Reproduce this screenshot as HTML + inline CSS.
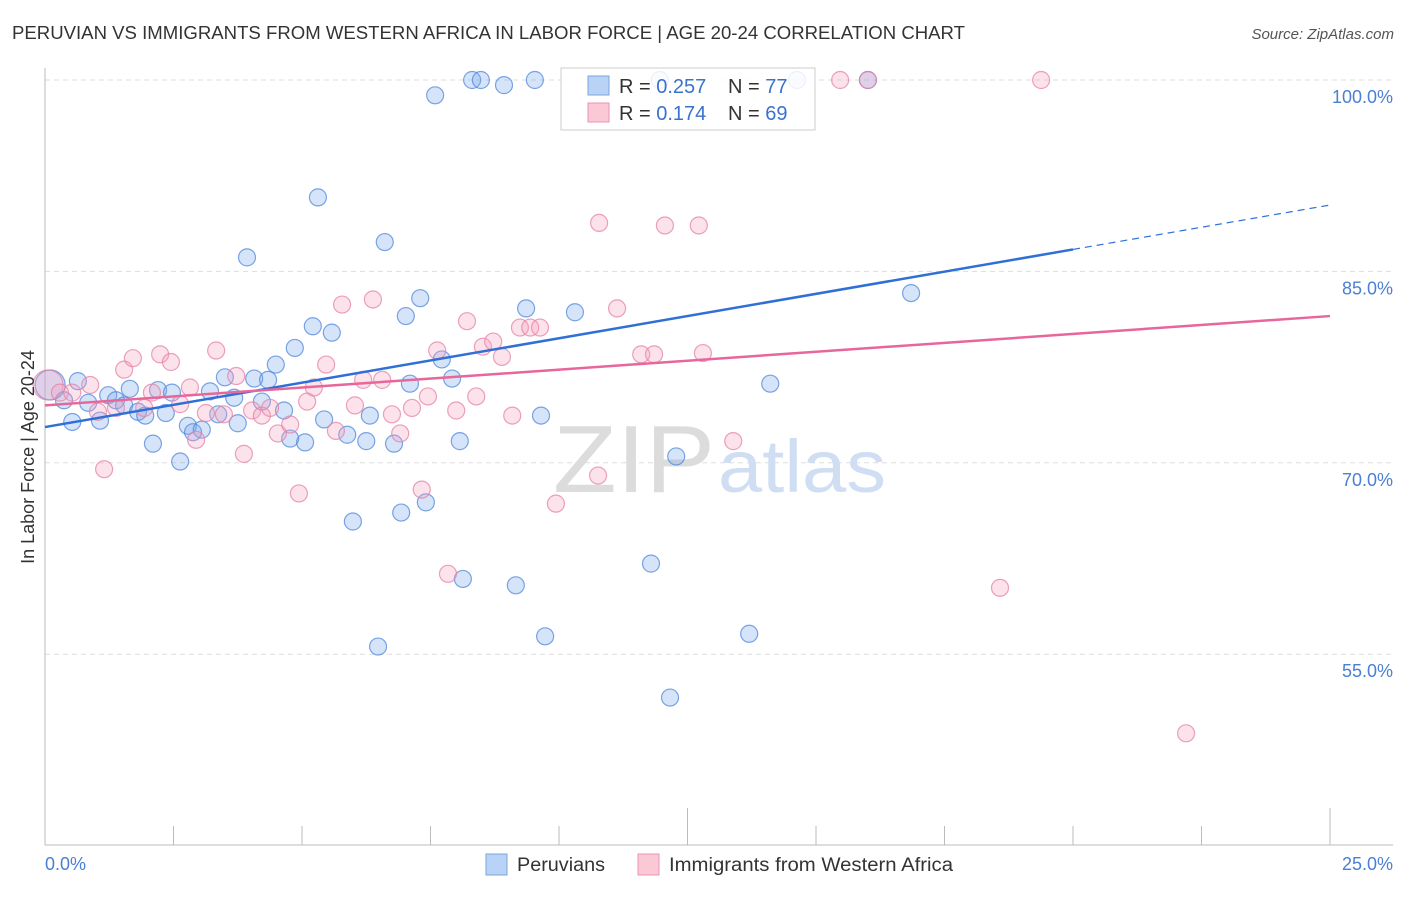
<!DOCTYPE html>
<html><head><meta charset="utf-8"><style>
body{margin:0;background:#fff;font-family:"Liberation Sans",sans-serif}
svg text{font-family:"Liberation Sans",sans-serif}
</style></head><body>
<svg width="1406" height="892" viewBox="0 0 1406 892">
<text x="12" y="39" font-size="18" fill="#333" textLength="953" lengthAdjust="spacingAndGlyphs">PERUVIAN VS IMMIGRANTS FROM WESTERN AFRICA IN LABOR FORCE | AGE 20-24 CORRELATION CHART</text>
<text x="1394" y="39" font-size="15" fill="#555" font-style="italic" text-anchor="end">Source: ZipAtlas.com</text>
<g id="grid"></g>
<text x="553" y="492" font-size="96" fill="#dcdcdc" font-family="Liberation Serif" textLength="162" lengthAdjust="spacingAndGlyphs">ZIP</text>
<text x="718" y="492" font-size="74" fill="#cfdef2" textLength="168" lengthAdjust="spacingAndGlyphs">atlas</text>
<line x1="45" y1="68" x2="45" y2="845" stroke="#bbb"/>
<line x1="45" y1="845" x2="1393" y2="845" stroke="#bbb"/>
<g id="xticks"></g>
<g id="pts"></g>
<g id="lines"></g>
<text x="34" y="457" font-size="18" fill="#333" text-anchor="middle" transform="rotate(-90 34 457)">In Labor Force | Age 20-24</text>
<text x="45" y="870" font-size="18" fill="#4a7fd4">0.0%</text>
<text x="1393" y="870" font-size="18" fill="#4a7fd4" text-anchor="end">25.0%</text>
<g>
<rect x="486" y="854" width="21" height="21" fill="#b8d3f5" stroke="#7aa4e0"/>
<text x="517" y="871" font-size="19" fill="#333" textLength="88" lengthAdjust="spacingAndGlyphs">Peruvians</text>
<rect x="638" y="854" width="21" height="21" fill="#fbc8d6" stroke="#e995b0"/>
<text x="669" y="871" font-size="19" fill="#333" textLength="284" lengthAdjust="spacingAndGlyphs">Immigrants from Western Africa</text>
</g>
<g>
<rect x="561" y="68" width="254" height="62" fill="rgba(255,255,255,0.85)" stroke="#ccc"/>
<rect x="588" y="76" width="21" height="19" fill="#b8d3f5" stroke="#7aa4e0"/>
<text x="619" y="93" font-size="20" fill="#333">R = <tspan fill="#3a72cc">0.257</tspan></text>
<text x="728" y="93" font-size="20" fill="#333">N = <tspan fill="#3a72cc">77</tspan></text>
<rect x="588" y="103" width="21" height="19" fill="#fbc8d6" stroke="#e995b0"/>
<text x="619" y="120" font-size="20" fill="#333">R = <tspan fill="#3a72cc"> 0.174</tspan></text>
<text x="728" y="120" font-size="20" fill="#333">N = <tspan fill="#3a72cc">69</tspan></text>
</g>
</svg>
<script>
const yTicks=[100,85,70,55];
const yTickLabels=["100.0%","85.0%","70.0%","55.0%"];
const xTicks=[0,2.5,5,7.5,10,12.5,15,17.5,20,22.5,25];
const blueX=[0.10,0.37,0.53,0.64,0.84,1.07,1.23,1.38,1.54,1.65,1.81,1.95,2.10,2.20,2.35,2.47,2.63,2.78,2.88,3.05,3.21,3.37,3.50,3.68,3.75,3.93,4.07,4.22,4.34,4.49,4.65,4.77,4.86,5.06,5.21,5.31,5.43,5.58,5.88,5.99,6.25,6.32,6.48,6.61,6.79,6.93,7.02,7.10,7.30,7.41,7.59,7.72,7.92,8.07,8.13,8.31,8.48,8.93,9.16,9.36,9.53,9.65,9.73,10.31,11.79,11.96,12.16,12.28,13.70,14.11,14.63,16.01,16.85];
const blueY=[76.1,74.9,73.2,76.4,74.7,73.3,75.3,74.9,74.5,75.8,74.0,73.7,71.5,75.7,73.9,75.5,70.1,72.9,72.4,72.6,75.6,73.8,76.7,75.1,73.1,86.1,76.6,74.8,76.5,77.7,74.1,71.9,79.0,71.6,80.7,90.8,73.4,80.2,72.2,65.4,71.7,73.7,55.6,87.3,71.5,66.1,81.5,76.2,82.9,66.9,98.8,78.1,76.6,71.7,60.9,100,100,99.6,60.4,82.1,100,73.7,56.4,81.8,62.1,100,51.6,70.5,56.6,76.2,100,100,83.3];
const pinkX=[0.06,0.29,0.53,0.88,1.03,1.15,1.38,1.54,1.71,1.93,2.08,2.24,2.45,2.63,2.82,2.94,3.13,3.33,3.48,3.72,3.87,4.03,4.22,4.38,4.53,4.77,4.94,5.10,5.23,5.47,5.66,5.78,6.03,6.19,6.38,6.56,6.75,6.91,7.14,7.33,7.45,7.63,7.84,8.00,8.21,8.39,8.52,8.72,8.89,9.09,9.24,9.44,9.63,9.94,10.76,10.78,11.13,11.60,11.85,12.06,12.72,12.80,13.39,15.47,16.01,18.58,19.38,22.20];
const pinkY=[76.1,75.5,75.5,76.1,74.0,69.5,74.3,77.3,78.2,74.3,75.5,78.5,77.9,74.6,75.9,71.8,73.9,78.8,73.8,76.8,70.7,74.1,73.7,74.3,72.3,73.0,67.6,74.8,75.9,77.7,72.5,82.4,74.5,76.5,82.8,76.5,73.8,72.3,74.3,67.9,75.2,78.8,61.3,74.1,81.1,75.2,79.1,79.5,78.3,73.7,80.6,80.6,80.6,66.8,69.0,88.8,82.1,78.5,78.5,88.6,88.6,78.6,71.7,100,100,60.2,100,48.8];
const blueTrend=[72.8,90.2]; const blueSolidEnd=20;
const pinkTrend=[74.5,81.5];
const NS="http://www.w3.org/2000/svg";
const sx=v=>45+v*51.4, sy=v=>80+(100-v)*12.76;
function mk(tag,attrs,parent){const e=document.createElementNS(NS,tag);for(const k in attrs)e.setAttribute(k,attrs[k]);document.getElementById(parent).appendChild(e);return e;}
yTicks.forEach((t,i)=>{
 const l=mk('line',{x1:45,x2:1393,y1:sy(t),y2:sy(t),stroke:'#ddd','stroke-dasharray':'5,4'},'grid');
 
 
 const tx=mk('text',{x:1393,y:sy(t)+23,'font-size':18,fill:'#4a7fd4','text-anchor':'end'},'grid');
 tx.textContent=yTickLabels[i];
 
 
});
xTicks.forEach((t,i)=>{
 const major=(i%5===0);
 const l=mk('line',{x1:sx(t),x2:sx(t),y1:major?808:826,y2:845,stroke:'#bbb'},'xticks');
 
 
});
function pts(X,Y,fill,stroke,name){
 X.forEach((x,i)=>{
  const big=(i===0);
  const c=mk('circle',{cx:sx(x),cy:sy(Y[i]),r:big?15:8.5,fill:fill,stroke:stroke,'stroke-width':1.2},'pts');
  
  
 });
}
pts(blueX,blueY,'rgba(120,165,235,0.3)','rgba(80,135,220,0.75)','peruvian-point');
pts(pinkX,pinkY,'rgba(245,160,190,0.3)','rgba(230,130,165,0.75)','immigrant-point');
const bAt=x=>blueTrend[0]+(blueTrend[1]-blueTrend[0])*x/25;
let l1=mk('line',{x1:sx(0),y1:sy(bAt(0)),x2:sx(blueSolidEnd),y2:sy(bAt(blueSolidEnd)),stroke:'#2f6fd6','stroke-width':2.5},'lines');


let l2=mk('line',{x1:sx(blueSolidEnd),y1:sy(bAt(blueSolidEnd)),x2:sx(25),y2:sy(bAt(25)),stroke:'#2f6fd6','stroke-width':1.2,'stroke-dasharray':'7,5'},'lines');


let l3=mk('line',{x1:sx(0),y1:sy(pinkTrend[0]),x2:sx(25),y2:sy(pinkTrend[1]),stroke:'#e8679a','stroke-width':2.5},'lines');


</script>
</body></html>
